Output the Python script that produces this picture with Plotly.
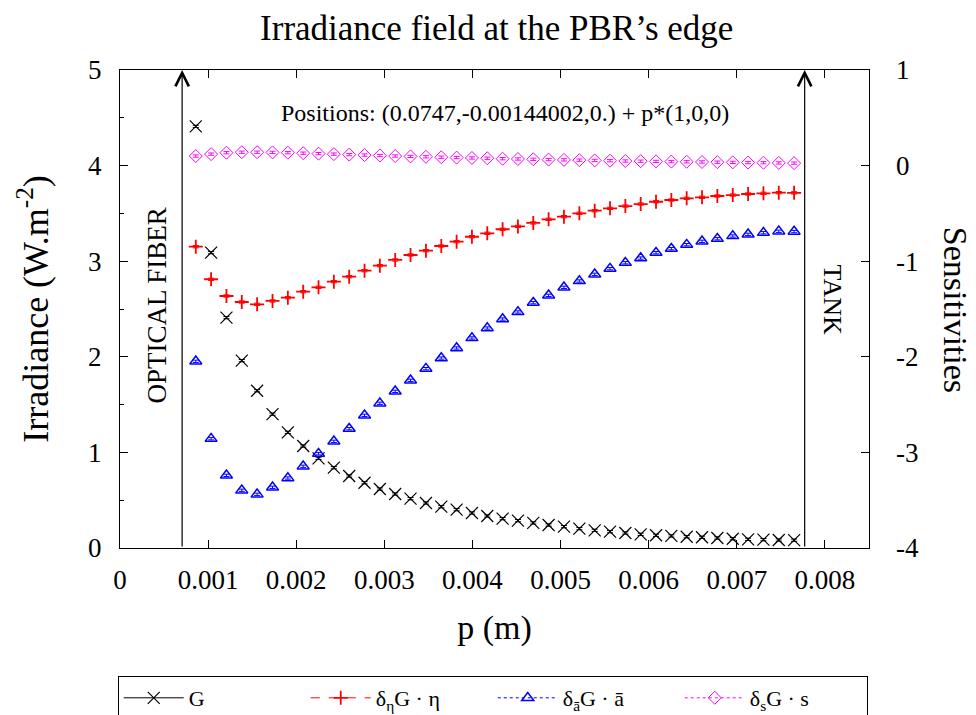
import plotly.graph_objects as go

# ---------------- data ----------------
p_m = [0.000860, 0.001034, 0.001208, 0.001382, 0.001556, 0.001731, 0.001905, 0.002079,
       0.002253, 0.002427, 0.002601, 0.002775, 0.002949, 0.003123, 0.003297, 0.003472,
       0.003646, 0.003820, 0.003994, 0.004168, 0.004342, 0.004516, 0.004690, 0.004864,
       0.005038, 0.005213, 0.005387, 0.005561, 0.005735, 0.005909, 0.006083, 0.006257,
       0.006431, 0.006605, 0.006779, 0.006954, 0.007128, 0.007302, 0.007476, 0.007650]

G = [4.41, 3.09, 2.41, 1.96, 1.645, 1.40, 1.21, 1.067, 0.938, 0.84,
     0.753, 0.683, 0.617, 0.565, 0.516, 0.471, 0.432, 0.401, 0.366, 0.335,
     0.307, 0.286, 0.262, 0.241, 0.223, 0.202, 0.185, 0.171, 0.157, 0.143,
     0.133, 0.126, 0.118, 0.112, 0.105, 0.097, 0.091, 0.087, 0.084, 0.082]

sens_eta = [-0.848, -1.189, -1.364, -1.427, -1.451, -1.416, -1.382, -1.319, -1.273, -1.214,
            -1.162, -1.099, -1.047, -0.987, -0.935, -0.890, -0.841, -0.796, -0.744, -0.708,
            -0.666, -0.636, -0.600, -0.562, -0.534, -0.499, -0.472, -0.447, -0.423, -0.402,
            -0.378, -0.360, -0.342, -0.332, -0.318, -0.308, -0.297, -0.290, -0.283, -0.285]

sens_abar = [-2.047, -2.857, -3.240, -3.396, -3.438, -3.365, -3.268, -3.145, -3.014, -2.884,
             -2.752, -2.612, -2.486, -2.361, -2.246, -2.124, -2.013, -1.908, -1.803, -1.699,
             -1.605, -1.531, -1.434, -1.357, -1.273, -1.207, -1.137, -1.078, -1.016, -0.967,
             -0.911, -0.869, -0.827, -0.792, -0.765, -0.736, -0.719, -0.702, -0.687, -0.690]

sens_s = [0.100, 0.120, 0.135, 0.140, 0.140, 0.138, 0.135, 0.130, 0.125, 0.120,
          0.115, 0.110, 0.105, 0.100, 0.096, 0.092, 0.088, 0.084, 0.080, 0.077,
          0.072, 0.069, 0.066, 0.063, 0.060, 0.057, 0.054, 0.051, 0.048, 0.046,
          0.044, 0.042, 0.040, 0.038, 0.036, 0.034, 0.032, 0.030, 0.028, 0.026]

fiber_edge_p = 0.000705
tank_edge_p = 0.00777

x_ticks = [0, 0.001, 0.002, 0.003, 0.004, 0.005, 0.006, 0.007, 0.008]
x_tick_text = ["0", "0.001", "0.002", "0.003", "0.004", "0.005", "0.006", "0.007", "0.008"]
y_ticks = [0, 1, 2, 3, 4, 5]
y2_ticks = [-4, -3, -2, -1, 0, 1]
y2_tick_text = ["-4", "-3", "-2", "-1", "0", "1"]

names = ["G", "δ<sub>η</sub>G · η", "δ<sub>ā</sub>G · ā", "δ<sub>s</sub>G · s"]

FONT = "Liberation Serif"
TICKFONT = dict(family=FONT, size=27, color="black")

fig = go.Figure()

series = [
    (G, "y", "black", "x-thin-open", 12, 1.2, "solid"),
    (sens_eta, "y2", "#ff0000", "cross-thin-open", 10, 1.8, "dash"),
    (sens_abar, "y2", "#0000ff", "triangle-up-open", 10.5, 1.5, "dot"),
    (sens_s, "y2", "#ff00ff", "diamond-open", 10, 1.0, "dot"),
]

for (vals, yax, col, sym, size, lw, dash), nm in zip(series, names):
    fig.add_trace(go.Scatter(
        x=p_m, y=vals, yaxis=yax, mode="markers", showlegend=False,
        marker=dict(symbol=sym, size=size, color=col, line=dict(color=col, width=lw)),
        error_y=dict(type="constant", value=0.012, width=3, thickness=1, color=col),
        hoverinfo="skip",
    ))
    # legend sample entry
    fig.add_trace(go.Scatter(
        x=[None], y=[None], yaxis=yax, mode="lines+markers", name=nm,
        line=dict(color=col, width=1, dash=dash),
        marker=dict(symbol=sym, size=size, color=col, line=dict(color=col, width=lw)),
    ))

annotations = [
    dict(x=fiber_edge_p, y=5, ax=fiber_edge_p, ay=0, xref="x", yref="y", axref="x", ayref="y",
         showarrow=True, arrowhead=5, arrowsize=2.2, arrowwidth=1.2, arrowcolor="black", text=""),
    dict(x=tank_edge_p, y=5, ax=tank_edge_p, ay=0, xref="x", yref="y", axref="x", ayref="y",
         showarrow=True, arrowhead=5, arrowsize=2.2, arrowwidth=1.2, arrowcolor="black", text=""),
    dict(x=0.514, y=0.91, xref="paper", yref="paper", showarrow=False,
         xanchor="center", yanchor="middle",
         text="Positions: (0.0747,-0.00144002,0.) + p*(1,0,0)",
         font=dict(family=FONT, size=24, color="black")),
    dict(x=0.0493, y=0.507, xref="paper", yref="paper", showarrow=False, textangle=-90,
         xanchor="center", yanchor="middle",
         text="OPTICAL FIBER", font=dict(family=FONT, size=27, color="black")),
    dict(x=0.951, y=0.519, xref="paper", yref="paper", showarrow=False, textangle=90,
         xanchor="center", yanchor="middle",
         text="TANK", font=dict(family=FONT, size=26, color="black")),
    dict(x=1.115, y=0.498, xref="paper", yref="paper", showarrow=False, textangle=90,
         xanchor="center", yanchor="middle",
         text="Sensitivities", font=dict(family=FONT, size=34, color="black")),
]

fig.update_layout(
    width=976, height=715,
    margin=dict(l=120, r=107, t=70, b=167, autoexpand=False),
    paper_bgcolor="white", plot_bgcolor="white",
    font=dict(family=FONT, color="black", size=27),
    title=dict(text="Irradiance field at the PBR’s edge", x=0.503, xref="paper",
               y=1 - 28 / 715, yref="container", xanchor="center", yanchor="middle",
               font=dict(family=FONT, size=35, color="black")),
    xaxis=dict(range=[0, 0.0085], tickvals=x_ticks, ticktext=x_tick_text, tickfont=TICKFONT,
               ticks="inside", ticklen=8, tickwidth=1, tickcolor="black",
               showline=True, linecolor="black", linewidth=1, mirror="ticks",
               showgrid=False, zeroline=False, ticklabelstandoff=8,
               title=dict(text="p (m)", font=dict(family=FONT, size=34), standoff=20)),
    yaxis=dict(range=[0, 5], tickvals=y_ticks, tickfont=TICKFONT,
               ticks="inside", ticklen=8, tickwidth=1, tickcolor="black",
               minor=dict(dtick=0.5, ticks="inside", ticklen=4, tickcolor="black", showgrid=False),
               showline=True, linecolor="black", linewidth=1, mirror=True,
               showgrid=False, zeroline=False, ticklabelstandoff=12,
               title=dict(text="Irradiance (W.m<sup>-2</sup>)", font=dict(family=FONT, size=36), standoff=28)),
    yaxis2=dict(range=[-4, 1], tickvals=y2_ticks, ticktext=y2_tick_text, tickfont=TICKFONT,
                overlaying="y", side="right",
                ticks="inside", ticklen=8, tickwidth=1, tickcolor="black",
                showline=False, showgrid=False, zeroline=False, ticklabelstandoff=26),
    legend=dict(orientation="h", x=-0.003, xanchor="left", y=(548 - 676) / 478, yanchor="top",
                bordercolor="black", borderwidth=1, bgcolor="white",
                entrywidth=112, entrywidthmode="pixels", itemwidth=60,
                font=dict(family=FONT, size=22, color="black")),
    annotations=annotations,
)

fig.write_html("out.html")
